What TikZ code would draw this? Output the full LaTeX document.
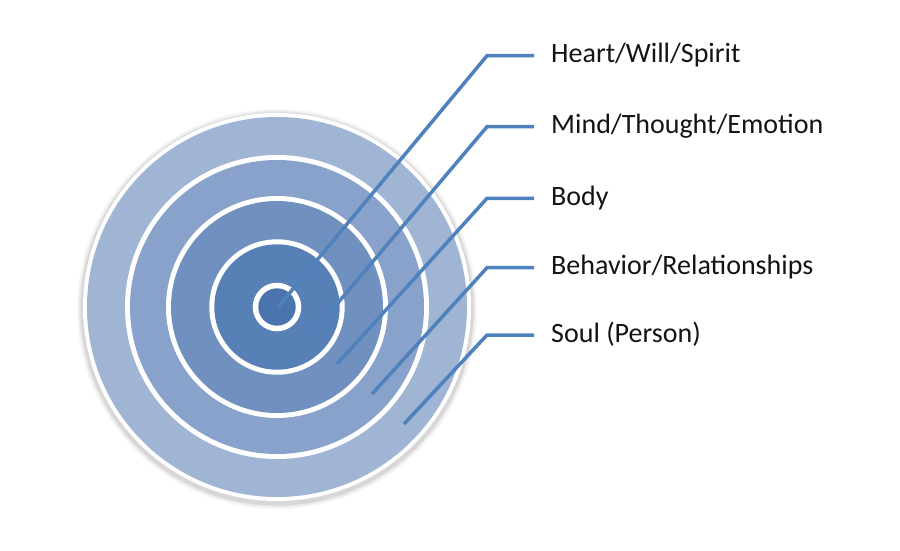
\documentclass[tikz,border=0pt]{standalone}
\usepackage{fontspec}
\setmainfont{Carlito}
\definecolor{ringA}{RGB}{160,180,212}
\definecolor{ringB}{RGB}{136,162,203}
\definecolor{ringC}{RGB}{112,144,192}
\definecolor{ringD}{RGB}{87,128,183}
\definecolor{ringE}{RGB}{76,116,172}
\definecolor{leader}{RGB}{79,129,189}
\definecolor{labtext}{RGB}{20,20,20}
\tikzset{
  leaderline/.style={draw=leader, line width=3.5pt, line join=miter},
  lab/.style={anchor=west, inner ysep=0pt, inner xsep=17pt, text height=21pt, text depth=7pt,
    font=\fontsize{28}{33}\selectfont, text=labtext},
}
\begin{document}
\begin{tikzpicture}[x=1pt,y=-1pt]
\useasboundingbox[fill=white] (0,0) rectangle (900,550);
\coordinate (c) at (277,307);
% soft shadow
\foreach \r/\o in {200/0.04,198/0.05,196.5/0.07}{
  \fill[black, opacity=\o] ([yshift=-2pt]c) circle (\r);
}
% target
\fill[white] (c) circle (194);
\fill[ringA] (c) circle (190);
\fill[white] (c) circle (152);
\fill[ringB] (c) circle (147);
\fill[white] (c) circle (111);
\fill[ringC] (c) circle (106);
\fill[white] (c) circle (67.7);
\fill[ringD] (c) circle (62.7);
\fill[white] (c) circle (24.3);
\fill[ringE] (c) circle (18.7);
% labels
\node[lab] (l1) at (534,55.7) {Heart/Will/Spirit};
\node[lab] (l2) at (534,126.7) {Mind/Thought/Emotion};
\node[lab] (l3) at (534,198.3) {Body};
\node[lab] (l4) at (534,267.7) {Behavior/Relationships};
\node[lab] (l5) at (534,335) {Soul (Person)};
% leader end points and knees
\coordinate (p1) at (278,307);
\coordinate (p2) at (309,337);
\coordinate (p3) at (337,364);
\coordinate (p4) at (372,394);
\coordinate (p5) at (404,424);
\coordinate (k1) at (487,55.7);
\coordinate (k2) at (487,126.7);
\coordinate (k3) at (487,198.3);
\coordinate (k4) at (487,267.7);
\coordinate (k5) at (487,335);
\foreach \i in {1,...,5}{
  \draw[leaderline] (p\i) -- (k\i) -- (l\i.west);
}
\end{tikzpicture}
\end{document}
